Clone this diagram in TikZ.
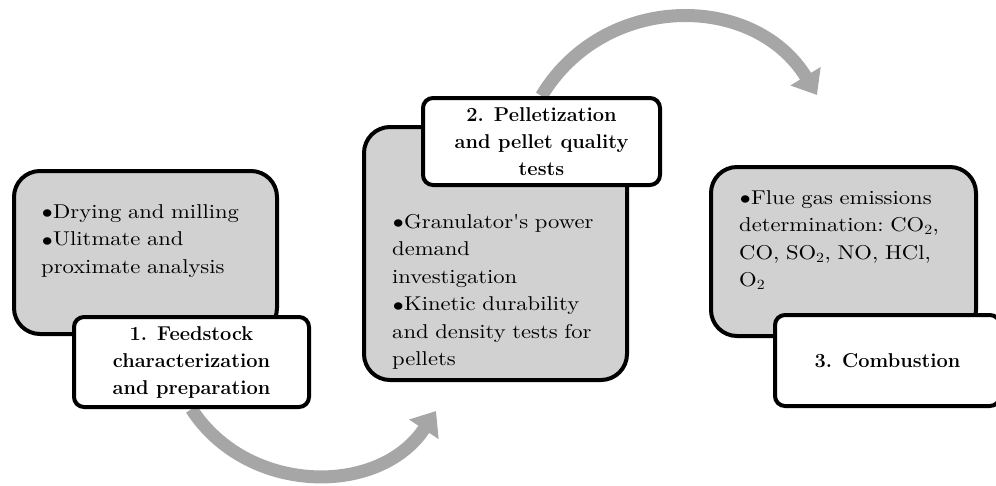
\documentclass[tikz,border=0pt]{standalone}
\usepackage{fontspec}
\usepackage{tikz}
\usetikzlibrary{arrows.meta, backgrounds}
\newfontfamily\bodyfont{lmroman10-regular.otf}[FakeStretch=1.13]
\newcommand{\bdy}{\bodyfont\fontsize{20}{27.5}\selectfont\frenchspacing}
\newcommand{\ttl}{\fontsize{20}{27}\selectfont\bfseries}
\newcommand{\itm}{\noindent\hangindent=9pt\hangafter=1\makebox[12pt][c]{\raisebox{-1.5pt}{\scalebox{1.3}{\textbullet}}}}
\tikzset{
  gbox/.style ={draw, line width=4pt, rounded corners=26pt, fill=black!18},
  wbox/.style ={draw, line width=4pt, rounded corners=10pt, fill=white,
                align=center, font=\ttl},
  btxt/.style ={anchor=north west, inner sep=0pt, text width=240pt,
                align=left, font=\bdy},
  flow/.style ={-{Triangle[length=22pt, width=34pt]}, line width=13pt,
                black!35},
}

\begin{document}
\begin{tikzpicture}[x=1pt, y=-1pt]
  \useasboundingbox (0,0) rectangle (996,485);
  % ---- step 1: feedstock
  \node[gbox, minimum width=263pt, minimum height=163pt] (g1) at (145.5,252.5) {};
  \node[btxt] (t1) at (41,204)
    {\itm Drying and milling\par
     \itm Ulitmate and\\proximate analysis};
  \node[wbox, minimum width=235pt, minimum height=90pt] (w1) at (191.5,362)
    {1. Feedstock\\characterization\\and preparation};
  % ---- step 2: pelletization
  \node[gbox, minimum width=263pt, minimum height=253pt] (g2) at (495.5,253.5) {};
  \node[btxt] (t2) at (392,214)
    {\itm Granulator's power\\demand\\investigation\par
     \itm Kinetic durability\\and density tests for\\pellets};
  \node[wbox, minimum width=237pt, minimum height=87pt] (w2) at (541.5,141.5)
    {2. Pelletization\\and pellet quality\\tests};
  % ---- step 3: combustion
  \node[gbox, minimum width=265pt, minimum height=169pt] (g3) at (843.5,251.5) {};
  \node[btxt] (t3) at (739,190)
    {\itm Flue gas emissions\\determination: CO\textsubscript{2},\\CO, SO\textsubscript{2}, NO, HCl,\\O\textsubscript{2}};
  \node[wbox, minimum width=225pt, minimum height=91pt] (w3) at (887.5,360.5)
    {3. Combustion};
  % ---- grey arrows between the steps
  \coordinate (e1) at (436,411);
  \coordinate (e2) at (817,95);
  \begin{scope}[on background layer]
    \draw[flow] (w1.south) .. controls (247,495) and (379,497) .. (e1);
    \draw[flow] (w2.north) .. controls (604,-8) and (754,-8) .. (e2);
  \end{scope}
\end{tikzpicture}
\end{document}
